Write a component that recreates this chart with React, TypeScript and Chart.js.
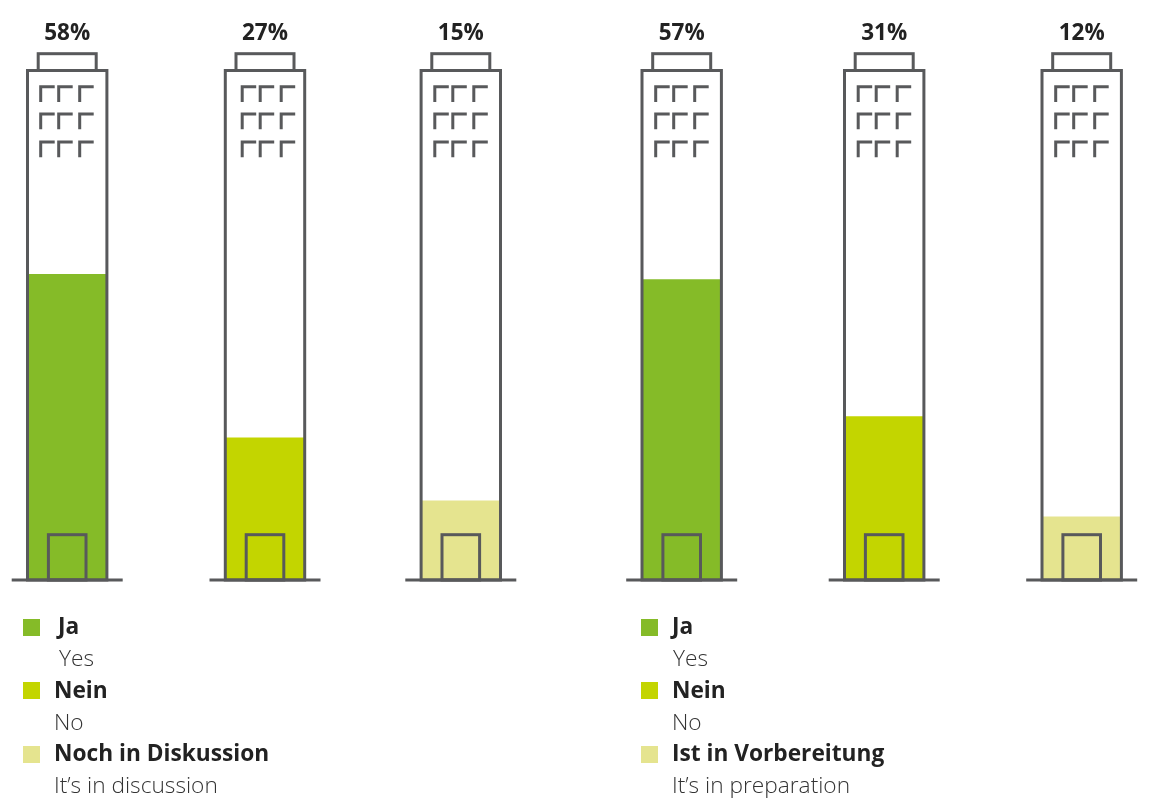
import React, { useEffect, useRef } from "react";
import { Chart, registerables } from "chart.js";

Chart.register(...registerables);

const categories = ["Ja A", "Nein A", "Diskussion", "Ja B", "Nein B", "Vorbereitung"];
const values = [58, 27, 15, 57, 31, 12];
const centres = [67.2, 265, 460.8, 681.7, 884.2, 1081.7];
const windowOffsets = [-26.5, -22.8, -26, -26, -26, -26];
const GREEN = "#85bb28";
const LIME = "#c3d500";
const PALE = "#e5e48f";
const barColors = [GREEN, LIME, PALE, GREEN, LIME, PALE];
const legendLeft = [
  { bold: "Ja", light: "Yes", color: GREEN, dx: 35 },
  { bold: "Nein", light: "No", color: LIME, dx: 31 },
  { bold: "Noch in Diskussion", light: "It’s in discussion", color: PALE, dx: 31 },
];
const legendRight = [
  { bold: "Ja", light: "Yes", color: GREEN, dx: 31 },
  { bold: "Nein", light: "No", color: LIME, dx: 31 },
  { bold: "Ist in Vorbereitung", light: "It’s in preparation", color: PALE, dx: 31 },
];

const STROKE = "#58595b";
const FONT = '"Open Sans", sans-serif';

const buildingPlugin = {
  id: "building",
  afterDatasetsDraw(chart: any) {
    const { ctx } = chart;
    const meta = chart.getDatasetMeta(0);
    const base = chart.scales.y.getPixelForValue(0);
    ctx.save();
    ctx.strokeStyle = STROKE;
    ctx.lineWidth = 3;
    ctx.lineCap = "butt";
    meta.data.forEach((bar: any, i: number) => {
      const cx = bar.x;
      ctx.strokeRect(cx - 39.7, 70.5, 79.4, base - 70.5);
      ctx.strokeRect(cx - 29, 53.7, 58, 16.8);
      ctx.strokeRect(cx - 18.8, 534.7, 37.6, base - 534.7);
      ctx.beginPath();
      ctx.moveTo(cx - 55.5, base);
      ctx.lineTo(cx + 55.5, base);
      ctx.stroke();
      const ox = cx + windowOffsets[i];
      [86.7, 114, 142].forEach((wy) => {
        [0, 18, 39].forEach((wx) => {
          ctx.beginPath();
          ctx.moveTo(ox + wx, wy + 15.2);
          ctx.lineTo(ox + wx, wy);
          ctx.lineTo(ox + wx + 14, wy);
          ctx.stroke();
        });
      });
      ctx.fillStyle = "#222222";
      ctx.font = `700 22.5px ${FONT}`;
      ctx.textAlign = "center";
      ctx.textBaseline = "middle";
      ctx.fillText(`${values[i]}%`, cx, 33.5);
    });
    ctx.restore();
  },
};

function Legend({ items, x }: { items: typeof legendLeft; x: number }) {
  const rowTops = [618.5, 682, 745.5];
  const textTops = [618.5, 683, 745.5];
  return (
    <>
      {items.map((it, i) => (
        <React.Fragment key={it.bold}>
          <div style={{ position: "absolute", left: x, top: rowTops[i], width: 17, height: 17, background: it.color }} />
          <div style={{ position: "absolute", left: x + it.dx, top: textTops[i] - 8, font: `700 22.7px/30px ${FONT}`, color: "#222222", whiteSpace: "nowrap" }}>{it.bold}</div>
          <div style={{ position: "absolute", left: x + it.dx + (i === 0 ? 1 : 0), top: textTops[i] + 24, font: `300 22.7px/30px ${FONT}`, color: "#333333", whiteSpace: "nowrap" }}>{it.light}</div>
        </React.Fragment>
      ))}
    </>
  );
}

export default function App() {
  const ref = useRef<HTMLCanvasElement>(null);
  useEffect(() => {
    const chart = new Chart(ref.current!, {
      type: "bar",
      data: {
        labels: categories,
        datasets: [
          {
            data: values.map((v, i) => ({ x: centres[i], y: v })),
            backgroundColor: barColors,
            barThickness: 80,
            borderWidth: 0,
          },
        ],
      },
      options: {
        animation: false,
        responsive: false,
        layout: { padding: { left: 0, right: 0, top: 0, bottom: 222 } },
        plugins: { legend: { display: false }, tooltip: { enabled: false } },
        scales: {
          x: { type: "linear", min: 0, max: 1159, display: false, offset: false },
          y: { min: 0, max: 110.06, display: false },
        },
      },
      plugins: [buildingPlugin],
    } as any);
    return () => chart.destroy();
  }, []);
  return (
    <div style={{ position: "absolute", left: 0, top: 0, width: 1159, height: 802, overflow: "hidden" }}>
      <canvas ref={ref} width={1159} height={802} style={{ position: "absolute", left: 0, top: 0 }} />
      <Legend items={legendLeft} x={23} />
      <Legend items={legendRight} x={641} />
    </div>
  );
}
